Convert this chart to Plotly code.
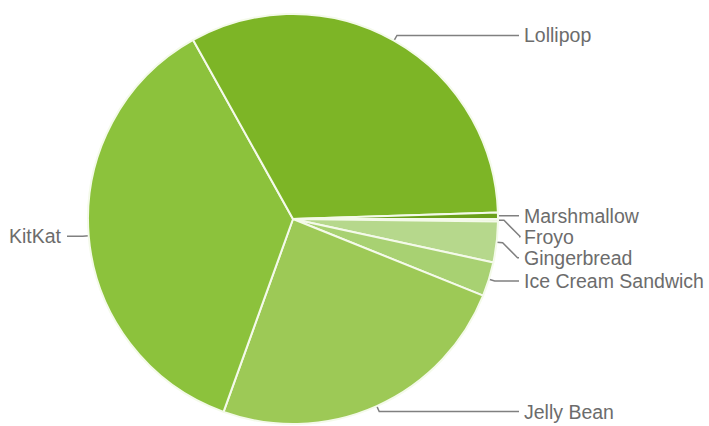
import math
import plotly.graph_objects as go

# ---- data ----
labels = ["Froyo", "Gingerbread", "Ice Cream Sandwich", "Jelly Bean",
          "KitKat", "Lollipop", "Marshmallow"]
values = [0.2, 3.2, 2.7, 24.4, 36.4, 32.6, 0.5]
colors = ["#cfe6ae", "#b6d88c", "#a8d172", "#9dc956",
          "#8cc23c", "#7db526", "#6aa01a"]

# ---- layout geometry (pixels) ----
W, H = 709, 426
CX, CY, R = 293, 219, 205
ROT = 90            # first slice starts at 3 o'clock, clockwise
OUT = 6             # radial stub of leader line beyond pie edge
LABEL_GAP = 25      # distance from pie edge to label text
MIN_DY = 21         # minimum vertical spacing of labels
LINE_COLOR = "#808080"
TEXT_COLOR = "#6c6c6c"
FONT = "Liberation Sans, Arial, sans-serif"
FSIZE = 19.5

fig = go.Figure()
fig.add_trace(go.Pie(
    labels=labels, values=values, sort=False, direction="clockwise",
    rotation=ROT, textinfo="none", hoverinfo="label+percent",
    marker=dict(colors=colors, line=dict(color="#f4faea", width=2)),
    domain=dict(x=[(CX - R) / W, (CX + R) / W],
                y=[1 - (CY + R) / H, 1 - (CY - R) / H]),
    showlegend=False,
))

# ---- leader lines & labels computed from the data ----
total = sum(values)
cum = 0.0
items = []
for lab, v in zip(labels, values):
    a0 = ROT + cum / total * 360
    a1 = a0 + v / total * 360
    cum += v
    mid = math.radians((a0 + a1) / 2)
    sx, sy = math.sin(mid), -math.cos(mid)
    ex, ey = CX + R * sx, CY + R * sy
    ox, oy = CX + (R + OUT) * sx, CY + (R + OUT) * sy
    side = 1 if sx > 0 else -1
    items.append(dict(label=lab, ex=ex, ey=ey, ox=ox, oy=oy, side=side, ly=oy))

for side in (1, -1):
    grp = sorted([it for it in items if it["side"] == side], key=lambda d: d["oy"])
    prev = None
    for it in grp:
        if prev is not None and it["ly"] < prev + MIN_DY:
            it["ly"] = prev + MIN_DY
        prev = it["ly"]

annotations = []
for it in items:
    s = it["side"]
    lx = CX + s * (R + LABEL_GAP)
    dy = abs(it["ly"] - it["oy"])
    bx = it["ox"] + s * dy
    xs = [it["ex"], it["ox"], bx, lx - s * 4]
    ys = [it["ey"], it["oy"], it["ly"], it["ly"]]
    fig.add_trace(go.Scatter(x=xs, y=ys, mode="lines",
                             line=dict(color=LINE_COLOR, width=1.5),
                             hoverinfo="skip", showlegend=False))
    annotations.append(dict(
        x=lx - s * 1, y=it["ly"], xref="x", yref="y", text=it["label"],
        showarrow=False, xanchor="left" if s > 0 else "right", yanchor="middle",
        font=dict(family=FONT, size=FSIZE, color=TEXT_COLOR)))

fig.update_layout(
    width=W, height=H, margin=dict(l=0, r=0, t=0, b=0),
    paper_bgcolor="white", plot_bgcolor="rgba(0,0,0,0)",
    showlegend=False, annotations=annotations,
    xaxis=dict(range=[0, W], visible=False, fixedrange=True, domain=[0, 1]),
    yaxis=dict(range=[H, 0], visible=False, fixedrange=True, domain=[0, 1]),
)

fig.write_html("out.html")
